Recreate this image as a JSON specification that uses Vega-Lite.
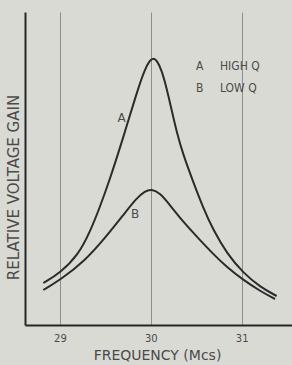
{
  "$schema": "https://vega.github.io/schema/vega-lite/v6.json",
  "width": 267,
  "height": 313,
  "autosize": {"type": "none"},
  "padding": {"left": 25, "top": 12, "right": 0, "bottom": 40},
  "background": "#dadad5",
  "config": {
    "view": {"stroke": null},
    "font": "DejaVu Sans"
  },
  "datasets": {
    "curves": [
      {"f": 28.816, "g": 42, "curve": "A"},
      {"f": 29.0, "g": 52, "curve": "A"},
      {"f": 29.201, "g": 70, "curve": "A"},
      {"f": 29.33, "g": 93, "curve": "A"},
      {"f": 29.44, "g": 118, "curve": "A"},
      {"f": 29.55, "g": 146, "curve": "A"},
      {"f": 29.66, "g": 177, "curve": "A"},
      {"f": 29.771, "g": 210, "curve": "A"},
      {"f": 29.862, "g": 237, "curve": "A"},
      {"f": 29.936, "g": 256, "curve": "A"},
      {"f": 29.991, "g": 265, "curve": "A"},
      {"f": 30.027, "g": 267, "curve": "A"},
      {"f": 30.065, "g": 265, "curve": "A"},
      {"f": 30.119, "g": 255, "curve": "A"},
      {"f": 30.174, "g": 237, "curve": "A"},
      {"f": 30.229, "g": 215, "curve": "A"},
      {"f": 30.285, "g": 193, "curve": "A"},
      {"f": 30.357, "g": 170, "curve": "A"},
      {"f": 30.467, "g": 143, "curve": "A"},
      {"f": 30.577, "g": 117, "curve": "A"},
      {"f": 30.687, "g": 95, "curve": "A"},
      {"f": 30.84, "g": 71, "curve": "A"},
      {"f": 31.018, "g": 52, "curve": "A"},
      {"f": 31.202, "g": 38, "curve": "A"},
      {"f": 31.385, "g": 29, "curve": "A"},
      {"f": 28.816, "g": 35, "curve": "B"},
      {"f": 29.0, "g": 45, "curve": "B"},
      {"f": 29.275, "g": 64, "curve": "B"},
      {"f": 29.514, "g": 89, "curve": "B"},
      {"f": 29.697, "g": 110, "curve": "B"},
      {"f": 29.844, "g": 127, "curve": "B"},
      {"f": 29.936, "g": 134, "curve": "B"},
      {"f": 30.009, "g": 136, "curve": "B"},
      {"f": 30.1, "g": 132, "curve": "B"},
      {"f": 30.21, "g": 120, "curve": "B"},
      {"f": 30.357, "g": 103, "curve": "B"},
      {"f": 30.541, "g": 85, "curve": "B"},
      {"f": 30.687, "g": 71, "curve": "B"},
      {"f": 30.835, "g": 58, "curve": "B"},
      {"f": 31.018, "g": 45, "curve": "B"},
      {"f": 31.202, "g": 34, "curve": "B"},
      {"f": 31.367, "g": 26, "curve": "B"}
    ],
    "curveLabels": [
      {"f": 29.679, "g": 207, "label": "A"},
      {"f": 29.826, "g": 111, "label": "B"}
    ],
    "legend": [
      {"f": 30.497, "g": 259, "label": "A"},
      {"f": 30.761, "g": 259, "label": "HIGH Q"},
      {"f": 30.497, "g": 237, "label": "B"},
      {"f": 30.761, "g": 237, "label": "LOW Q"}
    ]
  },
  "layer": [
    {
      "data": {"name": "curves"},
      "mark": {"type": "line", "interpolate": "basis", "color": "#2b2b2b", "strokeWidth": 2},
      "encoding": {
        "x": {
          "field": "f", "type": "quantitative",
          "scale": {"domain": [28.615, 31.554], "nice": false, "zero": false},
          "axis": {
            "values": [29, 30, 31],
            "format": "d",
            "title": "FREQUENCY (Mcs)",
            "titleFont": "DejaVu Sans",
            "titleFontSize": 14,
            "titleFontWeight": "normal",
            "titleColor": "#4a4a4a",
            "titleX": 132,
            "titleY": 30,
            "titleAlign": "center",
            "titleBaseline": "middle",
            "labelFontSize": 10,
            "labelColor": "#4a4a4a",
            "labelPadding": 8,
            "ticks": false,
            "domainColor": "#262626",
            "domainWidth": 2,
            "grid": true,
            "gridColor": "#7a7a7a",
            "gridWidth": 1,
            "gridOpacity": 0.8
          }
        },
        "y": {
          "field": "g", "type": "quantitative",
          "scale": {"domain": [0, 313], "nice": false},
          "axis": {
            "title": "RELATIVE VOLTAGE GAIN",
            "titleFont": "DejaVu Sans",
            "titleFontSize": 15,
            "titleFontWeight": "normal",
            "titleColor": "#4a4a4a",
            "titleAngle": -90,
            "titleX": -12,
            "titleY": 175,
            "titleAlign": "center",
            "titleBaseline": "middle",
            "labels": false,
            "ticks": false,
            "grid": false,
            "domainColor": "#262626",
            "domainWidth": 2
          }
        },
        "detail": {"field": "curve", "type": "nominal"}
      }
    },
    {
      "data": {"name": "curveLabels"},
      "mark": {"type": "text", "fontSize": 12, "color": "#4a4a4a", "align": "center", "baseline": "middle"},
      "encoding": {
        "x": {"field": "f", "type": "quantitative"},
        "y": {"field": "g", "type": "quantitative"},
        "text": {"field": "label"}
      }
    },
    {
      "data": {"name": "legend"},
      "mark": {"type": "text", "font": "DejaVu Sans Condensed", "fontSize": 12, "color": "#4a4a4a", "align": "left", "baseline": "middle"},
      "encoding": {
        "x": {"field": "f", "type": "quantitative"},
        "y": {"field": "g", "type": "quantitative"},
        "text": {"field": "label"}
      }
    }
  ]
}
